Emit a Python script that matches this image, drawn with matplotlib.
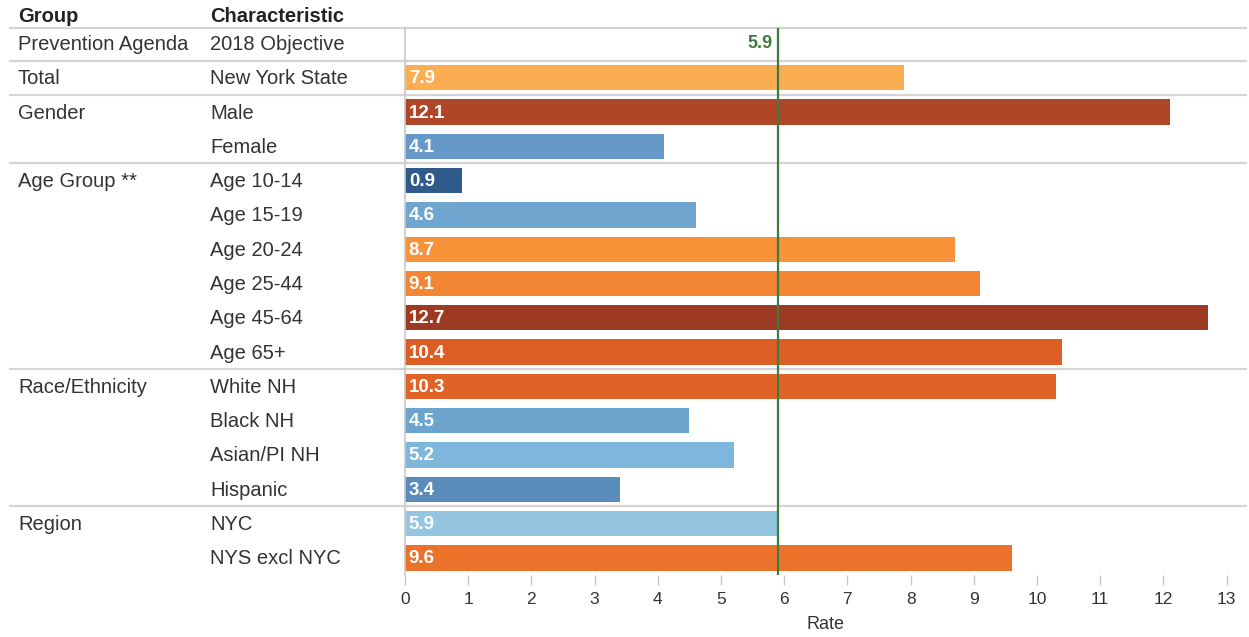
# Prevention Agenda rate chart by group/characteristic

import matplotlib
matplotlib.use("Agg")
import matplotlib.pyplot as plt
import matplotlib.transforms as mtransforms

plt.rcParams["font.family"] = ["Liberation Sans", "DejaVu Sans"]

# ----------------------------------------
# Data

groups = ["Prevention Agenda", "Total", "Gender", "", "Age Group **", "", "", "", "", "",
          "Race/Ethnicity", "", "", "", "Region", ""]
characteristics = ["2018 Objective", "New York State", "Male", "Female", "Age 10-14", "Age 15-19",
                   "Age 20-24", "Age 25-44", "Age 45-64", "Age 65+", "White NH", "Black NH",
                   "Asian/PI NH", "Hispanic", "NYC", "NYS excl NYC"]
rates = [None, 7.9, 12.1, 4.1, 0.9, 4.6, 8.7, 9.1, 12.7, 10.4, 10.3, 4.5, 5.2, 3.4, 5.9, 9.6]
bar_colors = [None, "#fbad52", "#ae4627", "#6699c8", "#2f5b8a", "#6fa5cf", "#f8933a", "#f28634",
              "#9c3a22", "#dd5e24", "#e06226", "#6ca4ce", "#7fb6dc", "#5a8cbb", "#94c5e1", "#ec722b"]
objective = 5.9
group_breaks = [-0.45, 0.5, 1.5, 3.5, 9.5, 13.5]
xticks = list(range(0, 14))

# ----------------------------------------

W, H = 1249, 637
fig = plt.figure(figsize=(W / 100, H / 100), dpi=100)
ax = fig.add_axes([405 / W, 1 - 575 / H, (1246 - 405) / W, (575 - 28) / H])

n = len(characteristics)
ax.set_ylim(n - 0.5, -0.45)
ax.set_xlim(0, (1246 - 405) / 63.2)

for i, (v, c) in enumerate(zip(rates, bar_colors)):
    if v is None:
        continue
    ax.barh(i, v, height=0.74, color=c, edgecolor="none", zorder=2)
    ax.text(0.06, i + 0.03, f"{v:.1f}", color="white", fontsize=13.5, fontweight="bold",
            va="center", ha="left", zorder=4)

# objective line
ax.axvline(objective, color="#3e7c3e", linewidth=1.6, zorder=3)
ax.text(objective - 0.08, 0, f"{objective:.1f}", color="#3e7c3e", fontsize=13,
        fontweight="bold", ha="right", va="center")

# table labels
tr = mtransforms.blended_transform_factory(fig.transFigure, ax.transData)
for i in range(n):
    ax.text(18 / W, i + 0.03, groups[i], transform=tr, fontsize=14.5, color="#333333",
            va="center", ha="left", clip_on=False)
    ax.text(210 / W, i + 0.03, characteristics[i], transform=tr, fontsize=14.5, color="#333333",
            va="center", ha="left", clip_on=False)
fig.text(18 / W, 1 - 16 / H, "Group", fontsize=14.5, fontweight="bold", color="#222222", va="center")
fig.text(210 / W, 1 - 16 / H, "Characteristic", fontsize=14.5, fontweight="bold", color="#222222", va="center")

# row separators
for b in group_breaks:
    ax.plot([10 / W, 1246 / W], [b, b], transform=tr, color="#d4d4d4", linewidth=1.6,
            clip_on=False, zorder=1)

# axes styling
for s in ["top", "right", "bottom"]:
    ax.spines[s].set_visible(False)
ax.spines["left"].set_color("#c8c8c8")
ax.spines["left"].set_linewidth(1.2)
ax.set_yticks([])
ax.set_xticks(xticks)
ax.tick_params(axis="x", length=7, width=1, color="#c8c8c8", labelsize=12.5,
               labelcolor="#333333", pad=5)
ax.set_xlabel("Rate", fontsize=13, color="#333333", labelpad=7)

fig.savefig("out.png", dpi=100)
